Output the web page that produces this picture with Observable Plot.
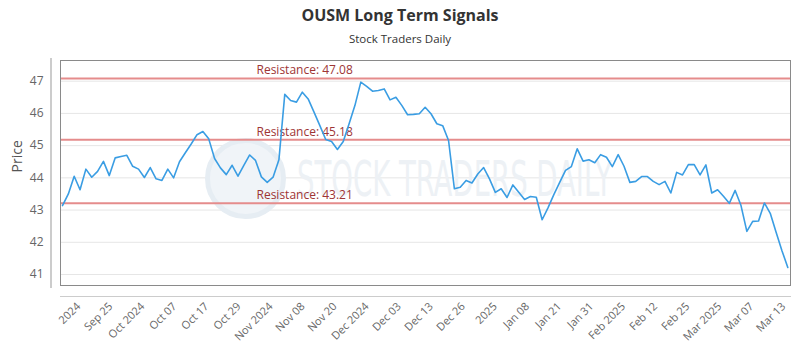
<!DOCTYPE html>
<html><head><meta charset="utf-8">
<script src="https://cdn.jsdelivr.net/npm/d3@7"></script>
<script src="https://cdn.jsdelivr.net/npm/@observablehq/plot@0.6"></script>
<style>
body{margin:0;background:#fff;font-family:"Open Sans",sans-serif;}
#wrap{width:800px;height:350px;position:relative;overflow:hidden;}
#title{position:absolute;top:3px;left:0;width:800px;text-align:center;font-size:16px;font-weight:bold;color:#333;line-height:24px;}
#subtitle{position:absolute;top:31px;left:0;width:800px;text-align:center;font-size:11.5px;color:#333;line-height:16px;}
#chart{position:absolute;top:50px;left:0;}
</style></head>
<body><div id="wrap"><div id="title">OUSM Long Term Signals</div><div id="subtitle">Stock Traders Daily</div><div id="chart"></div></div>
<script>
const prices = [43.14,43.50,44.05,43.63,44.27,44.02,44.20,44.51,44.07,44.62,44.66,44.70,44.36,44.27,44.01,44.32,43.97,43.92,44.27,44.00,
44.50,44.78,45.05,45.34,45.44,45.21,44.60,44.31,44.10,44.39,44.05,44.39,44.71,44.54,44.03,43.86,44.02,44.56,46.59,46.40,
46.35,46.66,46.45,46.04,45.62,45.19,45.13,44.88,45.13,45.68,46.25,46.97,46.84,46.69,46.71,46.76,46.42,46.50,46.25,45.96,
45.97,45.99,46.19,45.99,45.68,45.62,45.16,43.66,43.71,43.92,43.84,44.12,44.32,43.97,43.55,43.66,43.39,43.78,43.55,43.33,
43.42,43.40,42.70,43.07,43.48,43.86,44.23,44.35,44.90,44.52,44.56,44.47,44.72,44.64,44.35,44.72,44.36,43.86,43.89,44.04,
44.04,43.89,43.79,43.89,43.53,44.17,44.09,44.41,44.41,44.09,44.40,43.53,43.63,43.43,43.21,43.61,43.14,42.34,42.65,42.66,
43.22,42.90,42.31,41.74,41.22];
const tickLabels = ["2024","Sep 25","Oct 2024","Oct 07","Oct 17","Oct 29","Nov 2024","Nov 08","Nov 20","Dec 2024","Dec 03","Dec 13","Dec 26","2025","Jan 08","Jan 21","Jan 31","Feb 2025","Feb 12","Feb 25","Mar 2025","Mar 07","Mar 13"];
const resistanceLevels = [47.08, 45.18, 43.21];
const yTicks = [41,42,43,44,45,46,47];

const data = prices.map((v,i)=>({i, v}));
const tickStart = 2.75, tickStep = 5.48;
const tickPos = tickLabels.map((_,k)=>tickStart + k*tickStep);
const labelAt = new Map(tickPos.map((p,k)=>[p, tickLabels[k]]));

const plot = Plot.plot({
  width: 800, height: 300,
  marginTop: 10, marginLeft: 60, marginRight: 10, marginBottom: 54,
  x: {domain: [0, prices.length-1], range: [62, 787.3]},
  y: {domain: [41, 47], range: [224, 30.7]},
  style: {fontFamily: "Open Sans", background: "#fff", overflow: "visible"},
  marks: [
    Plot.gridY(yTicks, {stroke: "#e6e6e6", strokeOpacity: 1}),
    Plot.dot([0], {frameAnchor: "middle", dx: -180, r: 38, fill: "#f0f4f8", stroke: "#e6edf3", strokeWidth: 5}),
    Plot.text(["STOCK TRADERS DAILY"], {frameAnchor: "middle", dx: 29, dy: 1, fontSize: 50, fill: "#edf1f5", fontFamily: "DejaVu Sans Condensed", className: "wm"}),
    Plot.ruleY(resistanceLevels, {stroke: "#e58c8c", strokeWidth: 2}),
    Plot.text(resistanceLevels, {y: d => d, text: d => `Resistance: ${d.toFixed(2)}`, frameAnchor: "left", dx: 196, dy: -8, textAnchor: "start", fill: "#9e3535", fontSize: 12}),
    Plot.line(data, {x: "i", y: "v", stroke: "#3a9de3", strokeWidth: 1.6}),
    Plot.frame({stroke: "#8a8a8a", insetBottom: 11}),
    Plot.frame({anchor: "bottom", stroke: "#cccccc"}),
    Plot.frame({anchor: "left", insetLeft: -9.5, insetTop: -2, insetBottom: 9, stroke: "#aaaaaa", strokeWidth: 1.2}),
    Plot.axisY(yTicks, {tickSize: 0, tickPadding: 17, fontSize: 12, fill: "#666", label: null}),
    Plot.axisX(tickPos, {tickSize: 0, tickPadding: 8, tickRotate: -45, tickFormat: d => labelAt.get(d), fontSize: 11, fill: "#666", label: null}),
    Plot.text(["Price"], {frameAnchor: "left", rotate: -90, dx: -43, dy: -6, fontSize: 14, fill: "#555"})
  ]
});
document.getElementById("chart").appendChild(plot);
d3.select(plot).selectAll(".wm text").attr("textLength", 315).attr("lengthAdjust", "spacingAndGlyphs");
</script></body></html>
